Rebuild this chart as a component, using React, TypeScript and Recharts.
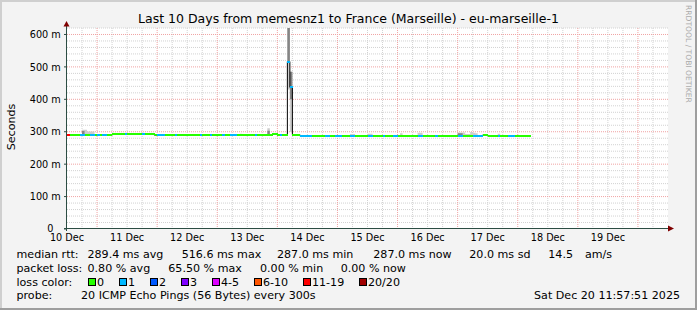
import React from "react";
import {
  ComposedChart,
  Area,
  Line,
  Scatter,
  XAxis,
  YAxis,
  CartesianGrid,
} from "recharts";

// hours counted from Wed Dec 10 12:00, one value per hour
const dayLabels = ["10 Dec", "11 Dec", "12 Dec", "13 Dec", "14 Dec", "15 Dec", "16 Dec", "17 Dec", "18 Dec", "19 Dec"];
const dayTicks = [0, 24, 48, 72, 96, 120, 144, 168, 192, 216];
const yTicks = [0, 100, 200, 300, 400, 500, 600];

// median rtt (ms) per hour
const medianRtt = [
  289, 289, 289, 289, 289, 289, 289, 289, 289, 289, 289, 289, 289, 289, 289, 289, 289, 289, 292, 292, 292, 292, 292, 292,
  292, 292, 292, 292, 292, 292, 292, 292, 292, 292, 292, 289, 289, 289, 289, 289, 289, 289, 289, 289, 289, 289, 289, 289,
  289, 289, 289, 289, 289, 289, 289, 289, 289, 289, 289, 289, 289, 289, 289, 289, 289, 289, 289, 289, 289, 289, 289, 289,
  289, 289, 289, 289, 289, 289, 289, 289, 289, 289, 292, 292, 289, 289, 289, 289, 516.6, 437, 291, 291, 291, 287, 287, 287,
  287, 287, 287, 287, 287, 287, 287, 287, 287, 287, 287, 287, 287, 287, 287, 287, 287, 287, 287, 287, 287, 287, 287, 287,
  287, 287, 287, 287, 287, 287, 287, 287, 287, 287, 287, 287, 287, 287, 287, 287, 287, 287, 287, 287, 287, 287, 287, 287,
  287, 287, 287, 287, 287, 287, 287, 287, 287, 287, 287, 287, 287, 287, 287, 287, 287, 287, 287, 287, 287, 287, 290, 290,
  287, 287, 287, 287, 287, 287, 287, 287, 287, 287, 287, 287, 287, 287, 287, 287, 287,
];

// lost pings out of 20 per hour
const lossCount = [
  13, 0, 0, 0, 0, 1, 1, 0, 0, 1, 1, 0, 1, 0, 1, 1, 0, 0, 0, 0, 0, 0, 0, 1,
  0, 0, 0, 0, 0, 0, 1, 0, 0, 0, 0, 0, 1, 1, 1, 0, 0, 0, 0, 1, 0, 0, 0, 0,
  0, 0, 0, 0, 0, 1, 0, 0, 0, 1, 0, 0, 0, 0, 1, 0, 0, 1, 1, 1, 0, 0, 0, 0,
  0, 0, 0, 1, 0, 0, 0, 0, 0, 0, 0, 0, 0, 1, 0, 0, 1, 1, 0, 0, 0, 1, 1, 1,
  1, 1, 0, 0, 0, 0, 0, 1, 1, 0, 0, 1, 1, 1, 0, 0, 0, 1, 1, 0, 0, 0, 0, 0,
  1, 1, 0, 0, 0, 0, 1, 0, 0, 0, 1, 1, 0, 0, 0, 0, 0, 0, 0, 0, 1, 1, 0, 0,
  0, 0, 0, 1, 0, 0, 0, 0, 0, 0, 0, 0, 1, 1, 0, 0, 0, 0, 1, 1, 1, 1, 0, 0,
  0, 0, 0, 0, 1, 0, 0, 0, 1, 1, 1, 0, 0, 0, 0, 0, 0,
];

// smoke: light spread of pings
const lightHours = [6, 8, 9, 10, 69, 80, 88, 89, 113, 114, 120, 121, 133, 140, 141, 156, 157, 159, 161, 162, 163, 172];
const lightLow = [289, 289, 289, 289, 289, 289, 430, 300, 287, 287, 287, 287, 287, 287, 287, 287, 287, 287, 287, 287, 287, 287];
const lightHigh = [306, 301, 301, 301, 294, 311, 620, 485, 293, 293, 294, 294, 295, 297, 297, 298, 298, 293, 299, 297, 295, 294];
// smoke: dense core
const darkHours = [6, 80, 88, 89, 156, 157];
const darkLow = [289, 289, 516, 400, 287, 287];
const darkHigh = [302, 303, 620, 485, 295, 295];

const lossColors = ["#26ff00", "#00b8ff", "#0059ff", "#7e00ff", "#dd00ff", "#ff5500", "#ff0000", "#a10000"];
const lossLabels = ["0", "1", "2", "3", "4-5", "6-10", "11-19", "20/20"];

function bucket(n: number) {
  if (n <= 3) return n;
  if (n <= 5) return 4;
  if (n <= 10) return 5;
  if (n <= 19) return 6;
  return 7;
}

function rangeMap(hours: number[], lo: number[], hi: number[]) {
  const m: Record<number, [number, number]> = {};
  hours.forEach((h, i) => (m[h] = [lo[i], hi[i]]));
  return m;
}

const lightMap = rangeMap(lightHours, lightLow, lightHigh);
const darkMap = rangeMap(darkHours, darkLow, darkHigh);

// stepAfter needs a closing point one hour later for every run
const N = medianRtt.length;
const rows: any[] = [];
for (let h = 0; h <= N; h++) {
  rows.push({
    h,
    med: h < N ? medianRtt[h] : medianRtt[N - 1],
    light: lightMap[h] ?? lightMap[h - 1] ?? null,
    dark: darkMap[h] ?? darkMap[h - 1] ?? null,
  });
}
const segRows = medianRtt.map((m, h) => ({ h, med: m, loss: lossCount[h] }));

const minorX: number[] = [];
const majorX: number[] = [];
for (let h = 6; h < 240; h += 6) ((h - 12) % 24 === 0 ? majorX : minorX).push(h);
const minorY: number[] = [];
const majorY: number[] = [];
for (let v = 20; v <= 620; v += 20) (v % 100 === 0 ? majorY : minorY).push(v);

const FONT = "DejaVu Sans";
const HOUR_PX = 601 / 240;

const XTick = (p: any) => (
  <text x={p.x} y={241} textAnchor="middle" fontSize={9.7} fontFamily={FONT} fill="#000">
    {dayLabels[dayTicks.indexOf(p.payload.value)]}
  </text>
);

const YTick = (p: any) => {
  const v = p.payload.value;
  return (
    <text x={v === 0 ? 53.5 : 60.8} y={p.y + (v === 0 ? 2.6 : 3.6)} textAnchor="end" fontSize={9.7} fontFamily={FONT} fill="#000">
      {v === 0 ? "0" : `${v} m`}
    </text>
  );
};

// one hour of the median line, coloured by loss
const MedianSeg = (p: any) => {
  if (p.cx == null || p.cy == null) return <g />;
  return (
    <rect
      x={p.cx}
      y={p.cy - 1}
      width={HOUR_PX + 0.4}
      height={2}
      fill={lossColors[bucket(p.payload.loss)]}
      shapeRendering="crispEdges"
    />
  );
};

const T = (props: any) => (
  <text fontFamily={FONT} fontSize={11.1} fill="#000" {...props} />
);

export default function App() {
  return (
    <div style={{ position: "absolute", left: 0, top: 0, width: 697, height: 310, background: "#f3f3f3" }}>
      <ComposedChart
        width={697}
        height={310}
        data={rows}
        margin={{ top: 28, right: 29, bottom: 0, left: 7 }}
        style={{ position: "absolute", left: 0, top: 0 }}
      >
        <CartesianGrid
          fill="#ffffff"
          stroke="#d2d2d2"
          strokeDasharray="1 1"
          horizontalValues={minorY}
          verticalValues={minorX}
        />
        <CartesianGrid
          stroke="#f0a3a3"
          strokeDasharray="1 1"
          horizontalValues={majorY}
          verticalValues={majorX}
        />
        <XAxis
          dataKey="h"
          type="number"
          domain={[0, 240]}
          ticks={dayTicks}
          interval={0}
          tick={XTick}
          tickLine={false}
          axisLine={false}
          height={81}
          allowDataOverflow
        />
        <YAxis
          type="number"
          domain={[0, 620]}
          ticks={yTicks}
          interval={0}
          tick={YTick}
          tickSize={3}
          tickLine={{ stroke: "#2c4d43" }}
          axisLine={false}
          width={60}
          allowDataOverflow
        />
        <Area
          dataKey="light"
          type="stepAfter"
          stroke="none"
          fill="#cdcdcd"
          fillOpacity={1}
          connectNulls={false}
          dot={false}
          activeDot={false}
          isAnimationActive={false}
        />
        <Area
          dataKey="dark"
          type="stepAfter"
          stroke="none"
          fill="#858585"
          fillOpacity={1}
          connectNulls={false}
          dot={false}
          activeDot={false}
          isAnimationActive={false}
        />
        <Line
          dataKey="med"
          type="stepAfter"
          stroke="#000000"
          strokeWidth={1}
          dot={false}
          activeDot={false}
          isAnimationActive={false}
        />
        <Scatter data={segRows} dataKey="med" shape={MedianSeg} isAnimationActive={false} />
      </ComposedChart>

      <svg width={697} height={310} style={{ position: "absolute", left: 0, top: 0, pointerEvents: "none" }}>
        <rect x={0} y={0} width={697} height={2} fill="#cfcfcf" />
        <rect x={0} y={0} width={2} height={310} fill="#cfcfcf" />
        <rect x={0} y={308} width={697} height={2} fill="#9e9e9e" />
        <rect x={695} y={0} width={2} height={310} fill="#9e9e9e" />

        <text x={348.5} y={23} textAnchor="middle" fontFamily={FONT} fontSize={12.5} fill="#000">
          Last 10 Days from memesnz1 to France (Marseille) - eu-marseille-1
        </text>
        <text
          x={15}
          y={127}
          transform="rotate(-90 15 127)"
          textAnchor="middle"
          fontFamily={FONT}
          fontSize={11.1}
          fill="#000"
        >
          Seconds
        </text>
        <text
          x={685.5}
          y={5}
          transform="rotate(90 685.5 5)"
          fontFamily={FONT}
          fontSize={7.6}
          fill="#ababab"
        >
          RRDTOOL / TOBI OETIKER
        </text>

        <line x1={64} y1={228.5} x2={670} y2={228.5} stroke="#2c4d43" />
        <line x1={66.5} y1={231} x2={66.5} y2={24} stroke="#2c4d43" />
        <polygon points="668,225.5 674,228.5 668,231.5" fill="#7f0000" />
        <polygon points="63.5,26.5 66.5,21 69.5,26.5" fill="#7f0000" />

        <T x={16.5} y={257.5}>median rtt:</T>
        <T x={87.5} y={257.5}>289.4 ms avg</T>
        <T x={181.7} y={257.5}>516.6 ms max</T>
        <T x={277} y={257.5}>287.0 ms min</T>
        <T x={373.3} y={257.5}>287.0 ms now</T>
        <T x={469.3} y={257.5}>20.0 ms sd</T>
        <T x={548.3} y={257.5}>14.5</T>
        <T x={585} y={257.5}>am/s</T>

        <T x={16.5} y={271.5}>packet loss:</T>
        <T x={87.5} y={271.5}>0.80 % avg</T>
        <T x={168.3} y={271.5}>65.50 % max</T>
        <T x={260} y={271.5}>0.00 % min</T>
        <T x={340.7} y={271.5}>0.00 % now</T>

        <T x={16.5} y={285.5}>loss color:</T>
        {lossLabels.map((l, i) => {
          const bx = [88.5, 119.5, 150.5, 181.5, 212.5, 254.5, 303.5, 359.5][i];
          return (
            <g key={l}>
              <rect x={bx} y={278.5} width={7} height={7} fill={lossColors[i]} stroke="#000" strokeWidth={1} />
              <T x={bx + 8.5} y={285.5}>{l}</T>
            </g>
          );
        })}

        <T x={16.5} y={299}>probe:</T>
        <T x={81} y={299}>20 ICMP Echo Pings (56 Bytes) every 300s</T>
        <T x={680} y={299} textAnchor="end">Sat Dec 20 11:57:51 2025</T>
      </svg>
    </div>
  );
}
